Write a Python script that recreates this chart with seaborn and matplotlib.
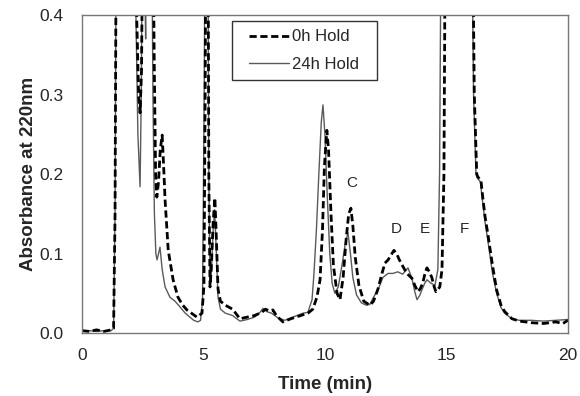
import numpy as np
import pandas as pd
import matplotlib
matplotlib.use("Agg")
import matplotlib.pyplot as plt
from matplotlib.patches import Rectangle
import seaborn as sns

# 0h hold trace (dashed)
t_0h = [0.0, 0.3, 0.6, 0.9, 1.2, 1.3, 1.36, 1.42, 2.15, 2.25, 2.33, 2.39, 2.45, 2.52,
        2.9, 2.97, 3.03, 3.08, 3.15, 3.22, 3.3, 3.36, 3.42, 3.55, 3.75, 3.95, 4.15,
        4.32, 4.55, 4.73, 4.94, 5.02, 5.07, 5.11, 5.18, 5.22, 5.27, 5.32, 5.4, 5.47,
        5.53, 5.6, 5.7, 5.9, 6.2, 6.5, 6.8, 7.1, 7.4, 7.55, 7.7, 7.86, 8.0, 8.27, 8.6,
        9.0, 9.3, 9.5, 9.67, 9.8, 9.9, 9.98, 10.08, 10.15, 10.25, 10.35, 10.5, 10.62,
        10.75, 10.88, 10.98, 11.07, 11.15, 11.25, 11.4, 11.6, 11.85, 12.0, 12.18,
        12.35, 12.47, 12.6, 12.72, 12.84, 12.95, 13.05, 13.17, 13.37, 13.58, 13.7,
        13.83, 13.93, 14.03, 14.12, 14.2, 14.3, 14.4, 14.5, 14.57, 14.65, 14.73,
        14.82, 14.9, 14.97, 16.05, 16.15, 16.25, 16.3, 16.42, 16.5, 16.6, 16.7, 16.9,
        17.07, 17.25, 17.4, 17.7, 18.0, 18.5, 19.0, 19.5, 19.8, 20.0]
abs_0h = [0.003, 0.002, 0.004, 0.002, 0.004, 0.006, 0.15, 0.6, 0.6, 0.4, 0.3, 0.277,
          0.33, 0.6, 0.6, 0.35, 0.2, 0.171, 0.19, 0.23, 0.249, 0.21, 0.167, 0.104,
          0.067, 0.045, 0.035, 0.029, 0.024, 0.02, 0.025, 0.06, 0.3, 0.6, 0.6, 0.2,
          0.058, 0.08, 0.14, 0.17, 0.12, 0.055, 0.04, 0.035, 0.03, 0.018, 0.02, 0.022,
          0.026, 0.03, 0.028, 0.029, 0.022, 0.014, 0.018, 0.022, 0.025, 0.03, 0.045,
          0.067, 0.13, 0.21, 0.255, 0.23, 0.15, 0.085, 0.05, 0.042, 0.07, 0.12, 0.15,
          0.157, 0.135, 0.095, 0.06, 0.04, 0.035, 0.04, 0.055, 0.075, 0.088, 0.092,
          0.098, 0.104, 0.1, 0.093, 0.086, 0.075, 0.069, 0.06, 0.052, 0.056, 0.063,
          0.075, 0.082, 0.077, 0.07, 0.058, 0.052, 0.055, 0.058, 0.08, 0.2, 0.6, 0.6,
          0.3, 0.2, 0.196, 0.193, 0.17, 0.145, 0.126, 0.085, 0.054, 0.035, 0.027,
          0.018, 0.015, 0.013, 0.012, 0.014, 0.012, 0.016]

# 24h hold trace (solid)
t_24h = [0.0, 0.3, 0.6, 0.9, 1.2, 1.3, 1.36, 1.42, 2.15, 2.22, 2.3, 2.39, 2.44, 2.5,
         2.58, 2.62, 2.66, 2.85, 2.92, 2.98, 3.04, 3.09, 3.15, 3.21, 3.3, 3.42, 3.62,
         3.83, 4.03, 4.25, 4.44, 4.6, 4.77, 4.88, 4.96, 5.03, 5.08, 5.17, 5.22, 5.27,
         5.33, 5.4, 5.46, 5.52, 5.6, 5.7, 5.9, 6.2, 6.5, 6.8, 7.1, 7.33, 7.45, 7.6,
         7.8, 8.07, 8.35, 8.68, 9.1, 9.3, 9.47, 9.55, 9.65, 9.75, 9.85, 9.92, 10.0,
         10.1, 10.2, 10.3, 10.41, 10.55, 10.7, 10.85, 10.95, 11.05, 11.15, 11.3, 11.5,
         11.7, 11.85, 12.0, 12.18, 12.39, 12.6, 12.8, 13.0, 13.2, 13.42, 13.58, 13.7,
         13.79, 13.9, 13.99, 14.1, 14.2, 14.35, 14.53, 14.65, 14.72, 14.8, 16.02,
         16.12, 16.22, 16.28, 16.4, 16.5, 16.6, 16.7, 16.9, 17.07, 17.25, 17.4, 17.7,
         18.0, 18.5, 19.0, 19.5, 20.0]
abs_24h = [0.003, 0.003, 0.002, 0.003, 0.003, 0.006, 0.15, 0.6, 0.6, 0.4, 0.25, 0.184,
           0.3, 0.6, 0.45, 0.37, 0.6, 0.6, 0.3, 0.15, 0.1, 0.092, 0.1, 0.108, 0.08,
           0.058, 0.045, 0.04, 0.033, 0.025, 0.02, 0.016, 0.014, 0.016, 0.04, 0.3,
           0.6, 0.6, 0.2, 0.06, 0.08, 0.13, 0.155, 0.11, 0.045, 0.03, 0.025, 0.022,
           0.015, 0.017, 0.02, 0.026, 0.031, 0.027, 0.025, 0.019, 0.016, 0.02, 0.025,
           0.026, 0.042, 0.075, 0.13, 0.2, 0.265, 0.287, 0.25, 0.17, 0.1, 0.062, 0.05,
           0.058, 0.085, 0.115, 0.126, 0.1, 0.07, 0.048, 0.038, 0.035, 0.036, 0.045,
           0.054, 0.07, 0.075, 0.075, 0.077, 0.074, 0.082, 0.069, 0.052, 0.042, 0.047,
           0.054, 0.062, 0.067, 0.063, 0.06, 0.08, 0.2, 0.6, 0.6, 0.3, 0.2, 0.195,
           0.19, 0.163, 0.138, 0.118, 0.075, 0.05, 0.032, 0.025, 0.018, 0.016, 0.016,
           0.015, 0.016, 0.017]

peak_names = ["C", "D", "E", "F"]
peak_x = [11.1, 12.95, 14.1, 15.75]
peak_y = [0.189, 0.131, 0.131, 0.131]

sns.set_style("white")
plt.rcParams['font.family'] = ['Liberation Sans', 'DejaVu Sans']

fig = plt.figure(figsize=(5.8, 3.96), dpi=100)
ax = fig.add_axes([0.1414, 0.159, 0.8376, 0.803])

sns.lineplot(x=t_24h, y=abs_24h, sort=False, estimator=None, color='#5a5a5a',
             lw=1.0, label='24h Hold', ax=ax)
sns.lineplot(x=t_0h, y=abs_0h, sort=False, estimator=None, color='black',
             lw=2.0, label='0h Hold', ax=ax)
ax.lines[-1].set_dashes([2.6, 1.3])

for name, px, py in zip(peak_names, peak_x, peak_y):
    ax.text(px, py, name, ha='center', va='center', fontsize=11)

ax.set_xlim(0, 20)
ax.set_ylim(0, 0.4)
ax.set_xticks([0, 5, 10, 15, 20])
ax.set_yticks([0.0, 0.1, 0.2, 0.3, 0.4])
ax.yaxis.set_major_formatter(matplotlib.ticker.FormatStrFormatter('%.1f'))
ax.tick_params(direction='in', length=5, width=1, color='#666666', labelsize=12.5)
ax.tick_params(axis='y', pad=13)
ax.tick_params(axis='x', pad=11)
for s in ax.spines.values():
    s.set_visible(True)
    s.set_color('#777777')
    s.set_linewidth(1.0)

ax.set_xlabel('Time (min)', fontsize=13.5, fontweight='bold', labelpad=9)
ax.set_ylabel('Absorbance at 220nm', fontsize=13.5, fontweight='bold', labelpad=2)

# legend box drawn separately so the side padding matches the original
ax.add_patch(Rectangle((0.309, 0.796), 0.298, 0.185, transform=ax.transAxes,
                       facecolor='white', edgecolor='#333333', lw=1.0, zorder=5))
h, l = ax.get_legend_handles_labels()
leg = ax.legend(h[::-1], l[::-1], loc='center left', bbox_to_anchor=(0.343, 0.888),
                borderaxespad=0, borderpad=0, fontsize=12, handlelength=2.45,
                handletextpad=0.15, labelspacing=0.75, frameon=False)
leg.set_zorder(6)

fig.savefig('out.png', dpi=100, facecolor='white')
